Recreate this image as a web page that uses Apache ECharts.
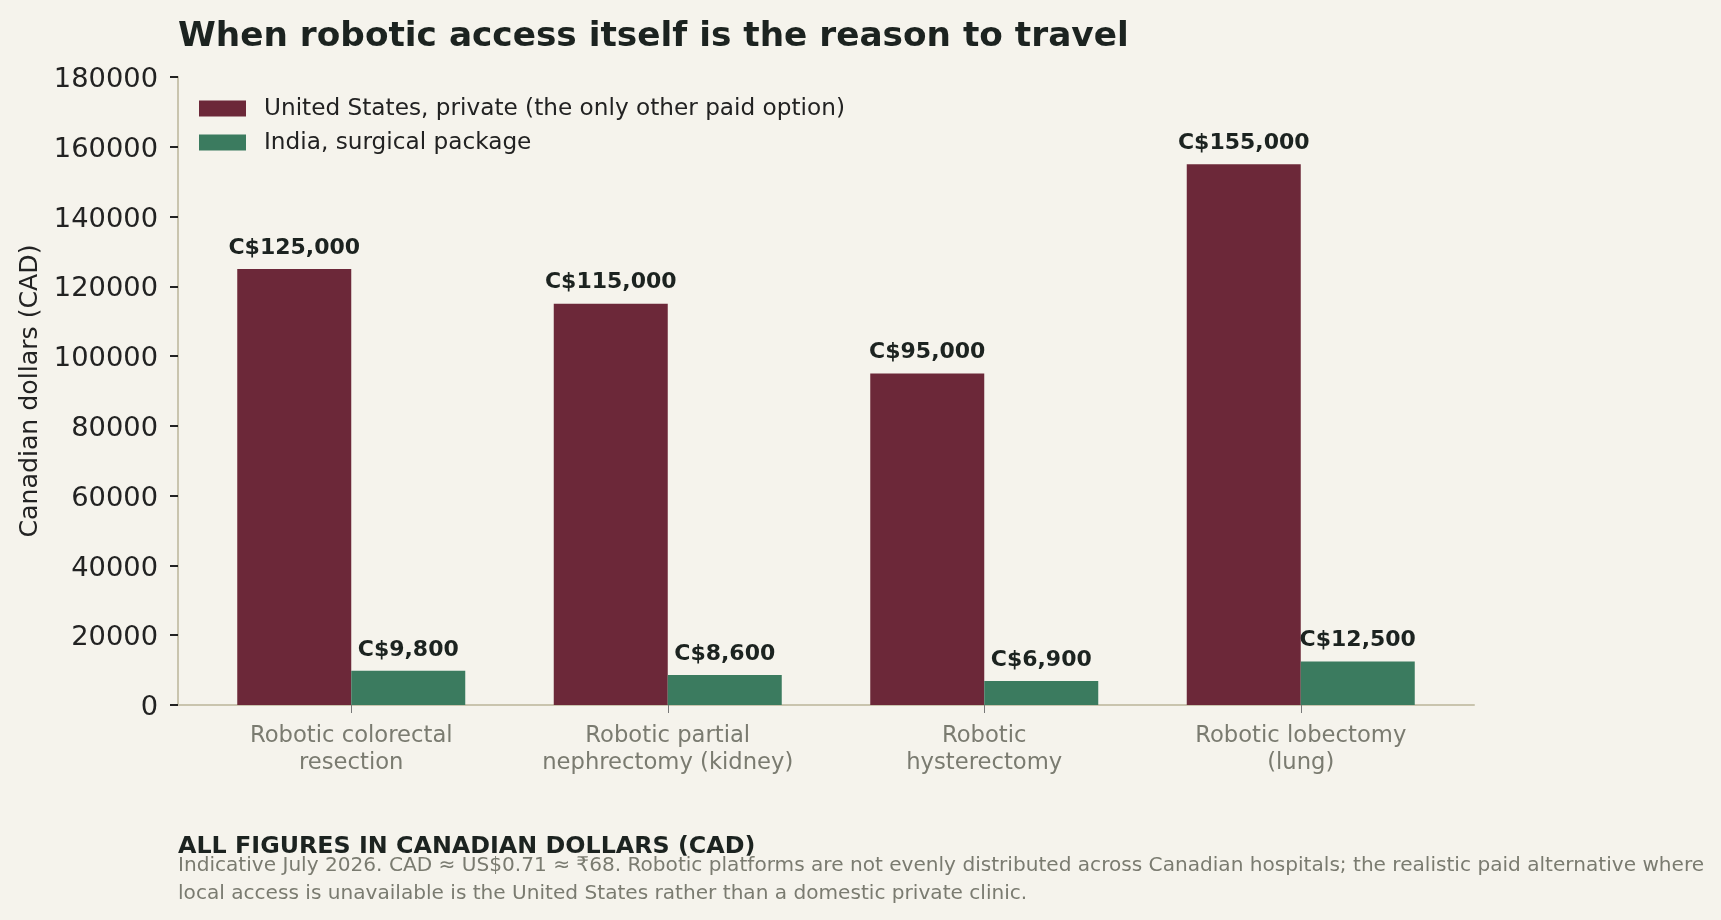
<!DOCTYPE html>
<html>
<head>
<meta charset="utf-8">
<script src="https://cdn.jsdelivr.net/npm/echarts@6/dist/echarts.min.js"></script>
<style>
  html, body { margin: 0; padding: 0; background: #f5f3ec; }
  #chart { width: 1721px; height: 920px; }
</style>
</head>
<body>
<div id="chart"></div>
<script>
const categories = [
  'Robotic colorectal\nresection',
  'Robotic partial\nnephrectomy (kidney)',
  'Robotic\nhysterectomy',
  'Robotic lobectomy\n(lung)'
];
const usPrivate = [125000, 115000, 95000, 155000];
const indiaPackage = [9800, 8600, 6900, 12500];
const seriesNames = ['United States, private (the only other paid option)', 'India, surgical package'];
const yTicks = { min: 0, max: 180000, interval: 20000 };
const titleText = 'When robotic access itself is the reason to travel';
const noteHead = 'ALL FIGURES IN CANADIAN DOLLARS (CAD)';
const noteLines = [
  'Indicative July 2026. CAD \u2248 US$0.71 \u2248 \u20b968. Robotic platforms are not evenly distributed across Canadian hospitals; the realistic paid alternative where',
  'local access is unavailable is the United States rather than a domestic private clinic.'
];

const FONT = 'DejaVu Sans';
const DARK = '#1c2320';
const GREY = '#7a7b70';
const SPINE = '#c9c4ae';

const chart = echarts.init(document.getElementById('chart'), null, { renderer: 'canvas' });

const fmt = v => 'C$' + Number(v).toLocaleString('en-US');

chart.setOption({
  backgroundColor: '#f5f3ec',
  animation: false,
  textStyle: { fontFamily: FONT },
  title: [
    {
      text: titleText, left: 178, top: 20, padding: 0,
      textStyle: { fontFamily: FONT, fontSize: 34.3, fontWeight: 'bold', color: DARK }
    },
    {
      text: noteHead, left: 178, top: 835, padding: 0,
      textStyle: { fontFamily: FONT, fontSize: 23.8, fontWeight: 'bold', color: DARK }
    },
    {
      text: noteLines.join('\n'), left: 178, top: 852, padding: 0,
      textStyle: { fontFamily: FONT, fontSize: 20.1, fontWeight: 'normal', color: GREY, lineHeight: 27.6 }
    }
  ],
  legend: {
    orient: 'vertical', left: 199, top: 97, padding: 0,
    itemWidth: 47, itemHeight: 16, itemGap: 11,
    icon: 'rect',
    data: seriesNames,
    textStyle: { fontFamily: FONT, fontSize: 23.2, color: '#222', padding: [0, 0, 0, 13] }
  },
  grid: [
    { left: 178, right: 247, top: 77, bottom: 215 },
    { left: 193, right: 262, top: 77, bottom: 215 }
  ],
  xAxis: [
    {
      type: 'value', gridIndex: 0, min: 0, max: 1,
      axisLine: { show: true, onZero: false, lineStyle: { color: SPINE, width: 2 } },
      axisTick: { show: false }, axisLabel: { show: false }, splitLine: { show: false }
    },
    {
      type: 'category', gridIndex: 1, data: categories,
      axisLine: { show: false },
      axisTick: { show: true, alignWithLabel: true, length: 8, lineStyle: { color: '#777', width: 1 } },
      axisLabel: { fontFamily: FONT, fontSize: 22.7, color: GREY, lineHeight: 27, margin: 18, interval: 0 },
      splitLine: { show: false }
    }
  ],
  yAxis: [
    {
      type: 'value', gridIndex: 0, min: yTicks.min, max: yTicks.max, interval: yTicks.interval,
      name: 'Canadian dollars (CAD)', nameLocation: 'middle', nameRotate: 90, nameGap: 132,
      nameTextStyle: { fontFamily: FONT, fontSize: 25.2, color: '#222' },
      axisLine: { show: true, lineStyle: { color: SPINE, width: 2 } },
      axisTick: { show: true, length: 8, lineStyle: { color: '#222', width: 2 } },
      axisLabel: { color: '#222', margin: 20,
        formatter: v => '{t|' + v + '}',
        rich: { t: { fontFamily: FONT, fontSize: 27.3, color: '#222', padding: [6, 0, 0, 0] } } },
      splitLine: { show: false }
    },
    {
      type: 'value', gridIndex: 1, min: yTicks.min, max: yTicks.max, interval: yTicks.interval,
      show: false, splitLine: { show: false }
    }
  ],
  series: [
    {
      name: seriesNames[0], type: 'bar', xAxisIndex: 1, yAxisIndex: 1,
      data: usPrivate, barWidth: 114, barGap: '0%',
      itemStyle: { color: '#6c2839' },
      label: { show: true, position: 'top', distance: 10, formatter: p => fmt(p.value),
        fontFamily: FONT, fontSize: 22, fontWeight: 'bold', color: DARK }
    },
    {
      name: seriesNames[1], type: 'bar', xAxisIndex: 1, yAxisIndex: 1,
      data: indiaPackage, barWidth: 114, barGap: '0%',
      itemStyle: { color: '#3b7b5f' },
      label: { show: true, position: 'top', distance: 10, formatter: p => fmt(p.value),
        fontFamily: FONT, fontSize: 22, fontWeight: 'bold', color: DARK }
    }
  ]
});
</script>
</body>
</html>
